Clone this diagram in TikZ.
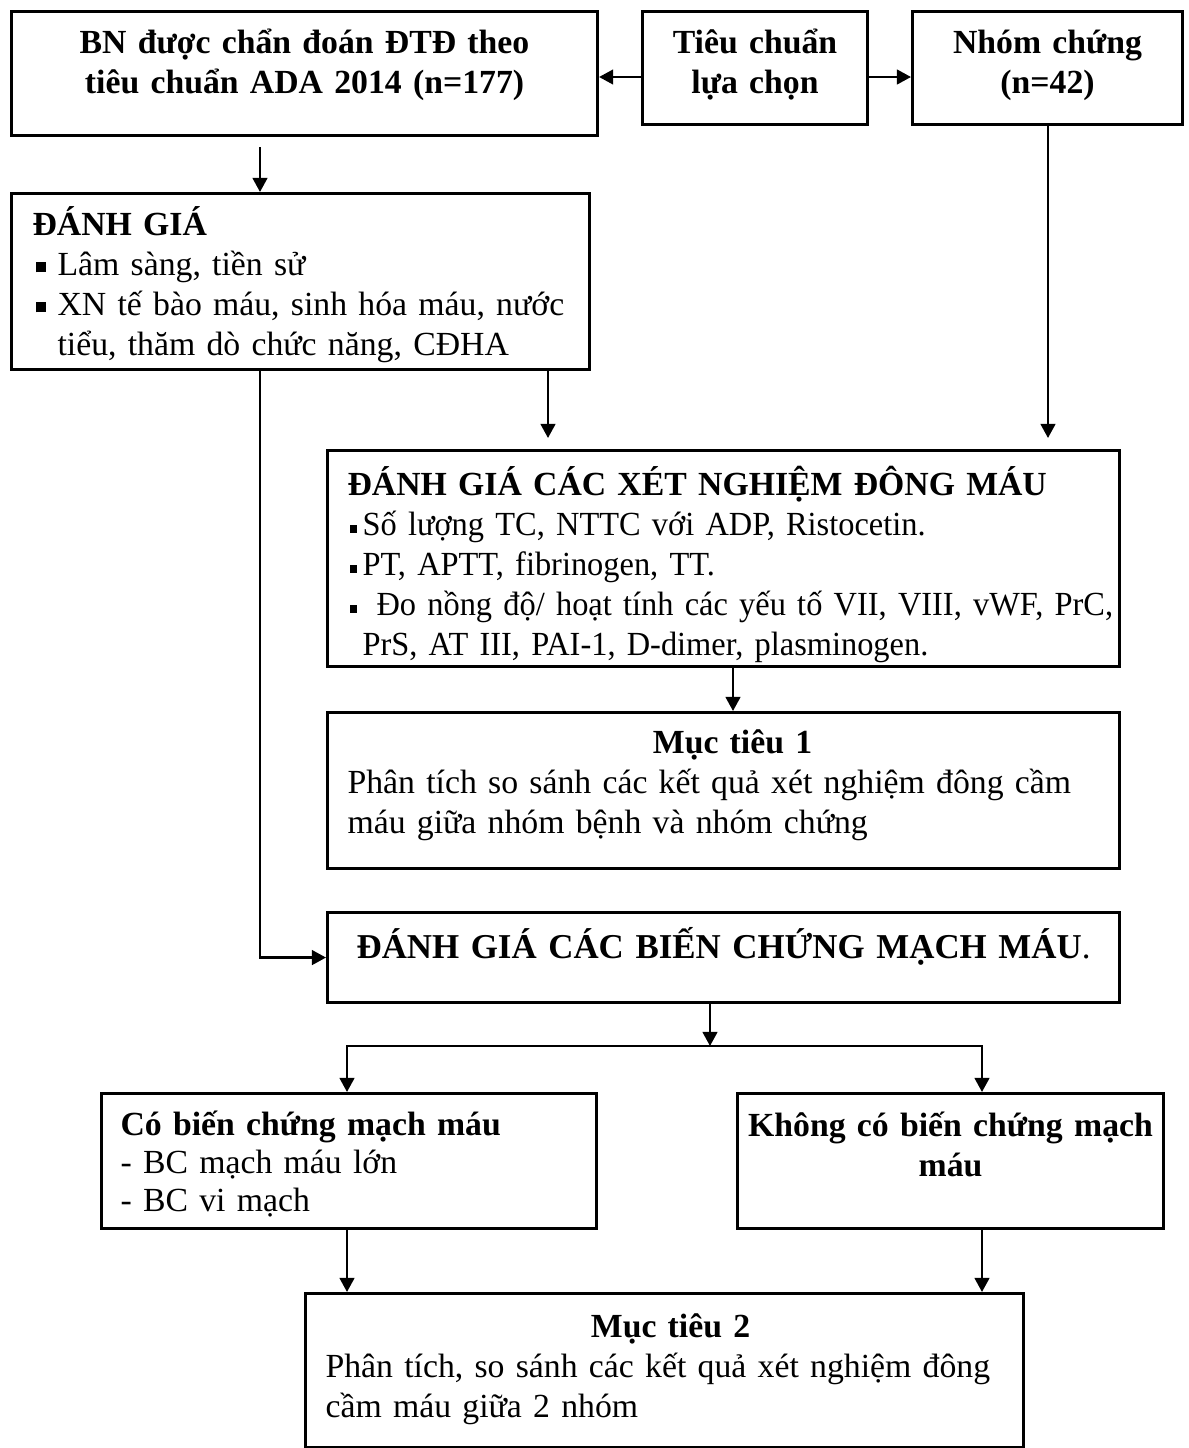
\documentclass[tikz,border=0pt]{standalone}
\usepackage{fontspec}
\setmainfont{Liberation Serif}
\newfontfamily\narrowserif[FakeStretch=0.96]{Liberation Serif}
\usetikzlibrary{arrows.meta,positioning}
\newdimen\px \px=0.0125cm
\newcommand\sqb[1]{\rule[1.1pt]{#1}{#1}}
% bullet line: indent, bullet box width, bullet size
\newcommand\bitem[3]{\par\noindent\hspace*{#1\px}\makebox[#2\px][l]{\sqb{#3}}}
% continuation line of a bullet
\newcommand\contline[1]{\par\noindent\hspace*{#1\px}}

\begin{document}
\begin{tikzpicture}[x=0.0125cm,y=-0.0125cm,
  box/.style={draw,line width=1.1pt,inner sep=0pt,anchor=north west},
  txt/.style={inner sep=0pt,font=\fontsize{12}{14.2}\selectfont,execute at begin node={\strut}},
  arr/.style={-{Triangle[length=5pt,width=5.2pt]},line width=0.85pt}]
\useasboundingbox (0,0) rectangle (1188,1448);

% top row
\node[box,minimum width=586\px,minimum height=124\px] (bn) at (10,10) {};
\node[txt,text width=560\px,align=center,below=15\px of bn.north] (bn-t)
  {\bfseries BN được chẩn đoán ĐTĐ theo\\ tiêu chuẩn ADA 2014 (n=177)};
\node[box,minimum width=225\px,minimum height=113\px] (tc) at (641,10) {};
\node[txt,text width=215\px,align=center,below=15\px of tc.north] (tc-t)
  {\bfseries Tiêu chuẩn\\ lựa chọn};
\node[box,minimum width=270\px,minimum height=113\px] (nc) at (911,10) {};
\node[txt,text width=260\px,align=center,below=15\px of nc.north] (nc-t)
  {\bfseries Nhóm chứng\\ (n=42)};

% danh gia
\node[box,minimum width=578\px,minimum height=176\px] (dg) at (10,192) {};
\node[txt,text width=552\px,align=left,below right=14\px and 22\px of dg.north west] (dg-t)
  {\textbf{ĐÁNH GIÁ}\bitem{3}{22}{3.8pt}Lâm sàng, tiền sử\bitem{3}{22}{3.8pt}XN tế bào máu, sinh hóa máu, nước\contline{25}tiểu, thăm dò chức năng, CĐHA};

% xet nghiem dong mau
\node[box,minimum width=792\px,minimum height=216\px] (xn) at (326,449) {};
\node[txt,text width=770\px,align=left,below right=17\px and 21\px of xn.north west] (xn-t)
  {\textbf{ĐÁNH GIÁ CÁC XÉT NGHIỆM ĐÔNG MÁU}\narrowserif\bitem{2}{13}{2.8pt}Số lượng TC, NTTC với ADP, Ristocetin.\bitem{2}{13}{2.8pt}PT, APTT, fibrinogen, TT.\bitem{2}{13}{2.8pt}\hspace*{14\px}Đo nồng độ/ hoạt tính các yếu tố VII, VIII, vWF, PrC,\contline{15}PrS, AT III, PAI-1, D-dimer, plasminogen.};

% muc tieu 1
\node[box,minimum width=792\px,minimum height=156\px] (mt1) at (326,711) {};
\node[txt,text width=770\px,align=left,below right=14\px and 21\px of mt1.north west] (mt1-t)
  {\hfill\textbf{Mục tiêu 1}\hfill\null\\ Phân tích so sánh các kết quả xét nghiệm đông cầm\\ máu giữa nhóm bệnh và nhóm chứng};

% bien chung mach mau
\node[box,minimum width=792\px,minimum height=90\px] (bc) at (326,911) {};
\node[txt,font=\fontsize{12.4}{14.2}\selectfont,text width=770\px,align=center,below=16\px of bc.north] (bc-t)
  {\textbf{ĐÁNH GIÁ CÁC BIẾN CHỨNG MẠCH MÁU}.};

% two groups
\node[box,minimum width=495\px,minimum height=135\px] (co) at (100,1092) {};
\node[txt,font=\fontsize{12}{13.5}\selectfont,text width=470\px,align=left,below right=16\px and 20\px of co.north west] (co-t)
  {\textbf{Có biến chứng mạch máu}\\ - BC mạch máu lớn\\ - BC vi mạch};
\node[box,minimum width=426\px,minimum height=135\px] (kc) at (736,1092) {};
\node[txt,text width=420\px,align=center,below=16\px of kc.north] (kc-t)
  {\bfseries Không có biến chứng mạch\\ máu};

% muc tieu 2
\node[box,minimum width=718\px,minimum height=154\px] (mt2) at (304,1292) {};
\node[txt,text width=690\px,align=left,below right=17\px and 21\px of mt2.north west] (mt2-t)
  {\hfill\textbf{Mục tiêu 2}\hfill\null\\ Phân tích, so sánh các kết quả xét nghiệm đông\\ cầm máu giữa 2 nhóm};

% connectors
\draw[arr] (tc.west |- 0,77) -- (bn.east |- 0,77);
\draw[arr] (tc.east |- 0,77) -- (nc.west |- 0,77);
\draw[arr,shorten <=10\px] (260,0 |- bn.south) -- (260,0 |- dg.north);
\draw[arr,shorten >=11\px] (548,0 |- dg.south) -- (548,0 |- xn.north);
\draw[arr,shorten >=11\px] (1048,0 |- nc.south) -- (1048,0 |- xn.north);
\draw[arr] (260,0 |- dg.south) |- (bc.west);
\draw[arr] (733,0 |- xn.south) -- (733,0 |- mt1.north);
\coordinate (split) at (710,1046);
\draw[arr] (710,0 |- bc.south) -- (split);
\draw[arr] (split) -| (347,0 |- co.north);
\draw[arr] (split) -| (982,0 |- kc.north);
\draw[arr] (347,0 |- co.south) -- (347,0 |- mt2.north);
\draw[arr] (982,0 |- kc.south) -- (982,0 |- mt2.north);
\end{tikzpicture}
\end{document}
